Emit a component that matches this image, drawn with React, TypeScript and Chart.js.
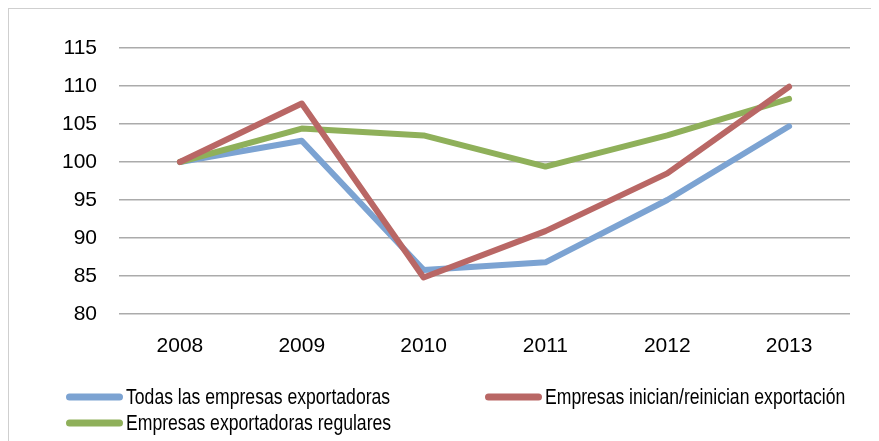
import React, { useEffect, useRef } from "react";
import { Chart, registerables } from "chart.js";

Chart.register(...registerables);

const years = ["2008", "2009", "2010", "2011", "2012", "2013"];
const todas = [100, 102.8, 85.8, 86.8, 95.0, 104.7];
const inician = [100, 107.7, 84.8, 90.9, 98.5, 109.9];
const regulares = [100, 104.4, 103.5, 99.4, 103.5, 108.3];
const seriesNames = [
  "Todas las empresas exportadoras",
  "Empresas inician/reinician exportación",
  "Empresas exportadoras regulares",
];
const yMin = 80;
const yMax = 115;
const yStep = 5;

const FONT = "'Liberation Sans', Arial, sans-serif";

const legendPlugin = {
  id: "gridLegend",
  afterDraw(chart: any, _args: any, opts: any) {
    const ctx = chart.ctx;
    const slots: [number, number][] = opts.slots;
    chart.data.datasets.forEach((ds: any, i: number) => {
      const [x, y] = slots[i];
      ctx.save();
      ctx.beginPath();
      ctx.lineCap = "round";
      ctx.lineWidth = 7;
      ctx.strokeStyle = ds.borderColor;
      ctx.moveTo(x + 3.5, y);
      ctx.lineTo(x + opts.lineLen - 3.5, y);
      ctx.stroke();
      ctx.fillStyle = "#000";
      ctx.font = `${opts.fontSize}px ${FONT}`;
      ctx.textBaseline = "middle";
      ctx.textAlign = "left";
      const tx = x + opts.lineLen + 3;
      ctx.translate(tx, y + 1);
      ctx.scale(opts.squeeze, 1);
      ctx.fillText(ds.label, 0, 0);
      ctx.restore();
    });
  },
};

export default function App() {
  const ref = useRef<HTMLCanvasElement>(null);
  useEffect(() => {
    if (!ref.current) return;
    const chart = new Chart(ref.current, {
      type: "line",
      data: {
        labels: years,
        datasets: [
          {
            label: seriesNames[0],
            data: todas,
            borderColor: "#7CA3D2",
            order: 2,
          },
          {
            label: seriesNames[1],
            data: inician,
            borderColor: "#B96765",
            order: 0,
          },
          {
            label: seriesNames[2],
            data: regulares,
            borderColor: "#8FB05A",
            order: 1,
          },
        ].map((d) => ({
          ...d,
          borderWidth: 6,
          pointRadius: 0,
          tension: 0,
          fill: false,
          borderCapStyle: "round" as const,
          borderJoinStyle: "round" as const,
        })),
      },
      options: {
        animation: false,
        responsive: false,
        maintainAspectRatio: false,
        layout: { padding: { top: 39, right: 29, left: 0, bottom: 0 } },
        plugins: {
          legend: { display: false },
          tooltip: { enabled: false },
          gridLegend: {
            slots: [
              [57, 388],
              [476, 388],
              [57, 414],
            ],
            lineLen: 57,
            fontSize: 22,
            squeeze: 0.8,
          },
        } as any,
        scales: {
          x: {
            offset: true,
            grid: { display: false, drawTicks: false },
            border: { display: false },
            ticks: {
              color: "#000",
              padding: 20,
              font: { family: FONT, size: 21 },
              maxRotation: 0,
            },
            afterFit(scale: any) {
              scale.height = 127;
            },
          },
          y: {
            min: yMin,
            max: yMax,
            grid: { color: "#ababab", lineWidth: 1.5, drawTicks: false },
            border: { display: false },
            ticks: {
              stepSize: yStep,
              color: "#000",
              padding: 22,
              font: { family: FONT, size: 21 },
            },
            afterFit(scale: any) {
              scale.width = 110;
            },
          },
        },
      },
      plugins: [legendPlugin],
    });
    return () => chart.destroy();
  }, []);
  return (
    <div
      style={{
        width: 871,
        height: 433,
        borderTop: "1px solid #cfcfcf",
        borderLeft: "1px solid #cfcfcf",
        boxSizing: "border-box",
        overflow: "hidden",
      }}
    >
      <canvas ref={ref} width={870} height={432} style={{ display: "block" }} />
    </div>
  );
}
